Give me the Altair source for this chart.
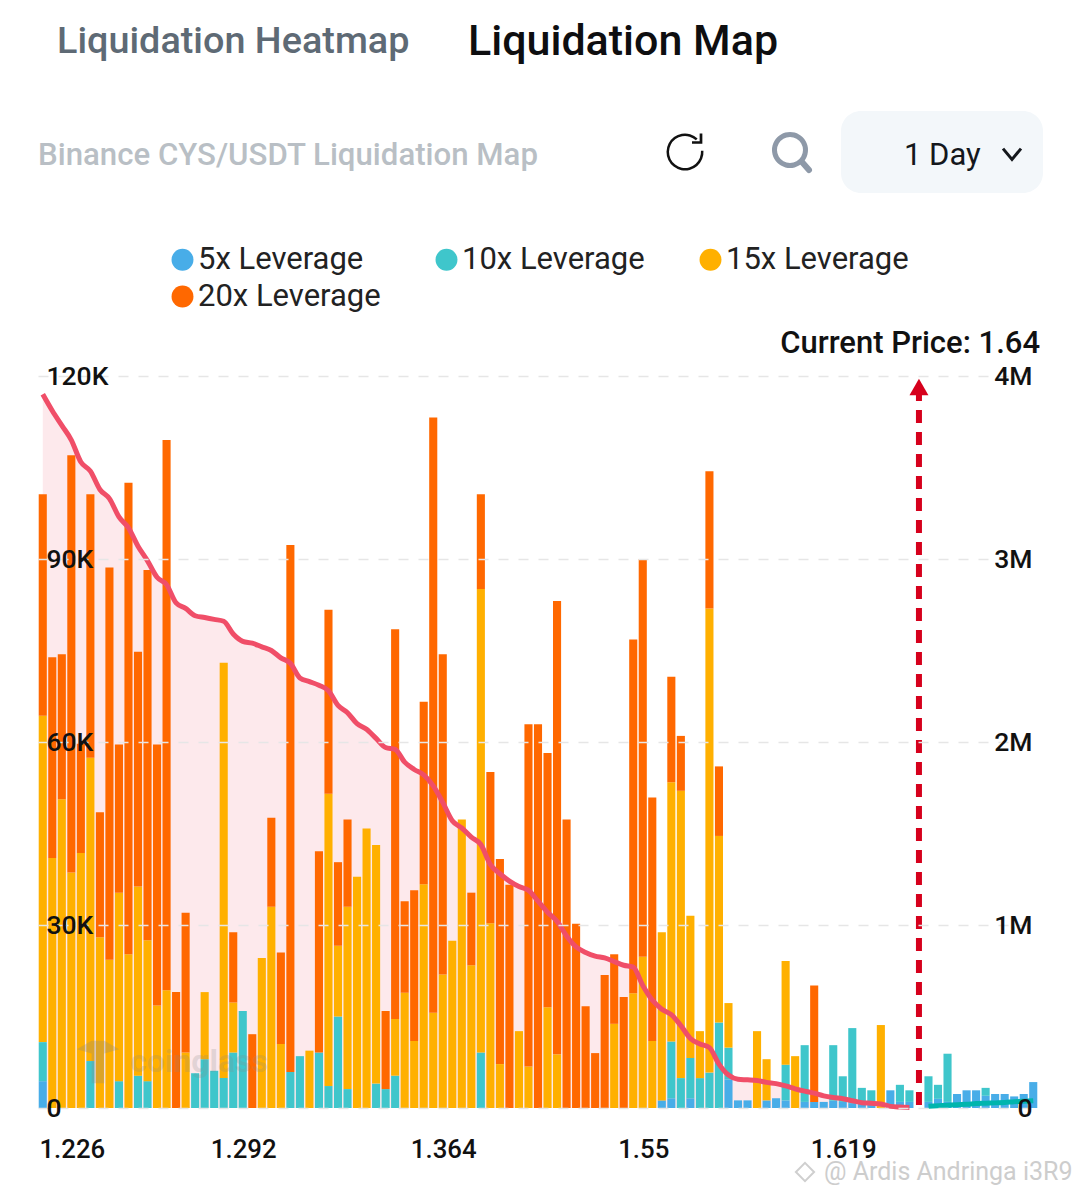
import altair as alt
import pandas as pd

# stack segments per bin, in thousands (USD)
lev5 = [4.4,0,0,0,0,0,0,0,0,0,0,0,0,0,0,0,0,0,0,0,0,0,0,0,0,0,0,0,0,0,
        0,0,0,0,0,0,0,0,0,0,0,0,0,0,0,0,0,0,0,0,0,0,0,0,0,0,0,0,0,0,
        0,0,0,0,0,1.25,1.6,0,1.6,0,0,0,4.7,1.25,1.25,0,1.25,1.6,1.25,0,1,1,1,1.2,1,.8,.8,.8,0,2.9,
        1,1,0,1,1.5,1,2.3,2.9,2.9,2,2.3,2.3,1.9,2.3,4.25]
lev10 = [6.4,0,0,0,0,7.7,0,0,4.4,0,5.3,4.4,0,0,0,0,5.7,8,6.1,4.9,9.1,15.9,0,0,0,0,5.9,8.5,0,9.1,
         3.6,15,3.1,0,0,4,3.1,5.3,0,0,0,0,0,0,0,0,9.1,0,0,0,0,0,0,0,0,0,0,0,0,0,
         0,0,0,0,0,0,9.3,4.9,6.6,4.9,5.8,14,5.2,0,0,0,0,0,5.85,0,9.3,0,0,9.1,4.2,12.3,2.5,2.1,0,0,
         2.8,1.9,0,4.2,2.3,7.9,0,0,0,1.3,0,0,0,0,0]
lev15 = [53.5,41,50.6,38.6,41.8,49.7,28,24.3,30.9,25.2,31,23.1,16.8,19.3,0,9.1,0,11,0,68.1,8.2,0,0,24.6,33,10.5,0,0,9.4,0,
         47.9,11.6,29.9,37.9,45.8,39.1,0,9.3,18.9,11,36.7,15.6,21.9,27.4,47.3,23.4,76,30.3,7.2,0,12.6,6.8,0,16.5,8.8,0,0,0,0,0,
         13.8,0,18.8,24.8,11,27.55,42.5,47.1,23.3,7.7,76.1,30.6,7.3,0,0,12.6,6.75,0,17,8.5,0,0,0,0,0,0,0,0,13.6,0,
         0,0,0,0,0,0,0,0,0,0,0,0,0,0,0]
lev20 = [36.3,32.9,23.8,68.4,17.9,43.2,20.5,64.3,24.3,77.3,38.5,60.7,42.8,90.2,19,22.9,0,0,0,0,11.5,0,12.1,0,14.6,15,86.4,0,0,33,
         30.2,13.7,14.3,0,0,0,12.8,63.9,15,24.7,29.9,97.6,52.5,0,0,11.9,15.5,24.8,33.6,36.6,0,56.1,62.9,41.7,74.3,47.3,30.2,16.7,9,21.8,
         11.4,18.2,58,65.2,39.9,0,17.3,9,0,0,22.5,11.4,0,0,0,0,0,0,0,0,0,19.1,0,0,0,0,0,0,0,0,
         0,0,0,0,0,0,0,0,0,0,0,0,0,0,0]
# cumulative short liquidation, in millions, bins 0-91
cum_left = [3.90,3.81,3.73,3.65,3.53,3.48,3.38,3.33,3.23,3.17,3.07,2.99,2.90,2.86,2.76,2.73,2.69,2.68,2.67,2.66,
            2.59,2.55,2.54,2.52,2.50,2.46,2.43,2.35,2.33,2.31,2.28,2.20,2.16,2.10,2.07,2.02,1.97,1.96,1.89,1.85,
            1.82,1.76,1.67,1.57,1.53,1.48,1.44,1.33,1.28,1.24,1.21,1.19,1.13,1.07,1.02,.94,.88,.85,.83,.82,
            .80,.78,.77,.67,.59,.54,.51,.45,.38,.35,.33,.24,.18,.157,.154,.15,.14,.133,.121,.105,
            .092,.081,.066,.057,.051,.04,.029,.026,.022,.009,.005,.003]
# cumulative long liquidation, in millions, bins 93-104
cum_right = [.009,.012,.015,.018,.020,.024,.026,.028,.03,.034,.037,.04]
series_names = ["5x Leverage","10x Leverage","15x Leverage","20x Leverage"]
# Vega's legend grid fills rows from this order to read 5x, 10x, 15x / 20x
legend_order = ["5x Leverage","15x Leverage","10x Leverage","20x Leverage"]
legend_colors = ["#48ADE8","#FFB000","#3FC6CB","#FF6800"]
tick_bins = [3,21,42,63,84]
tick_labels = ["1.226","1.292","1.364","1.55","1.619"]
current_bin = 92
FONT = "Roboto"

rows = []
for k,(name,arr) in enumerate(zip(series_names,[lev5,lev10,lev15,lev20])):
    for i,v in enumerate(arr):
        if v>0:
            rows.append({"bin":i,"value":v*1000,"series":name,"rank":k})
bars_df = pd.DataFrame(rows)
left_df = pd.DataFrame({"bin":range(len(cum_left)),"cum":[v*1e6 for v in cum_left]})
right_df = pd.DataFrame({"bin":range(93,93+len(cum_right)),"cum":[v*1e6 for v in cum_right]})
one = pd.DataFrame({"a":[1]})

OX, OY = 38, 376   # page position of the plot area
W, H = 1000, 732
def px(x): return alt.value(x-OX)
def py(y): return alt.value(y-OY)

lookup = "{" + ",".join(f"'{b}':'{t}'" for b,t in zip(tick_bins,tick_labels)) + "}[datum.value]"
xscale = alt.Scale(type="band",domain=list(range(105)),paddingInner=.15,paddingOuter=.075)
xenc = alt.X("bin:O",scale=xscale,title=None,
             axis=alt.Axis(values=tick_bins,labelExpr=lookup,labelAngle=0,labelFontSize=25.8,labelFont=FONT,
                           labelFontWeight=500,labelColor="#111",domain=False,ticks=False,labelPadding=41,
                           grid=False,labelOverlap=False,labelBaseline="middle",labelOffset=1,zindex=1))

left_axis = alt.Axis(orient="left",values=[0,30000,60000,90000,120000],title=None,domain=False,ticks=False,
                     labelExpr="datum.value==0?'0':datum.value/1000+'K'",labelAlign="left",labelPadding=-8,
                     labelFontSize=26.5,labelFont=FONT,labelFontWeight=500,labelColor="#111",labelBaseline="middle",
                     grid=True,gridColor="#E6E6E6",gridDash=[10,10],gridWidth=1.5,zindex=1)
right_axis = alt.Axis(orient="right",values=[0,1e6,2e6,3e6,4e6],title=None,domain=False,ticks=False,grid=False,
                      labelExpr="datum.value==0?'0':datum.value/1000000+'M'",labelAlign="right",labelPadding=-6,
                      labelFontSize=26.5,labelFont=FONT,labelFontWeight=500,labelColor="#111",labelBaseline="middle",zindex=1)
yL = alt.Scale(domain=[0,120000])
yR = alt.Scale(domain=[0,4000000])

area = alt.Chart(left_df).mark_area(color="#FDE7EA",opacity=.9,interpolate="monotone").encode(
    x=xenc,y=alt.Y("cum:Q",scale=yR,axis=None))
bars = alt.Chart(bars_df).mark_bar().encode(
    x=xenc,
    y=alt.Y("value:Q",stack="zero",scale=yL,axis=left_axis),
    color=alt.Color("series:N",scale=alt.Scale(domain=legend_order,range=legend_colors),
                    legend=alt.Legend(orient="none",legendX=172-OX-5,legendY=244-OY,columns=3,title=None,
                                      symbolType="circle",symbolSize=480,symbolStrokeWidth=0,symbolOpacity=1,
                                      labelFontSize=31,labelFont=FONT,labelColor="#222",labelOffset=0,
                                      columnPadding=50,rowPadding=5,gridAlign="all",labelLimit=300)),
    order=alt.Order("rank:Q",sort="ascending"))
line = alt.Chart(left_df).mark_line(color="#F04E68",strokeWidth=5,interpolate="monotone").encode(
    x=xenc,y=alt.Y("cum:Q",scale=yR,axis=right_axis))
line2 = alt.Chart(right_df).mark_line(color="#00B5AD",strokeWidth=5,interpolate="monotone").encode(
    x=xenc,y=alt.Y("cum:Q",scale=yR,axis=None))
rule = alt.Chart(pd.DataFrame({"bin":[current_bin]})).mark_rule(color="#D6001C",strokeWidth=6,strokeDash=[13,9]).encode(
    x=xenc,y=py(388),y2=py(1108))
tri = alt.Chart(pd.DataFrame({"bin":[current_bin]})).mark_point(shape="triangle-up",filled=True,color="#D6001C",size=360,opacity=1).encode(
    x=xenc,y=py(387))

def T(text,x,y,size,color="#111",weight=400,align="left",opacity=1):
    return alt.Chart(one).mark_text(text=text,fontSize=size,font=FONT,fontWeight=weight,color=color,
                                    align=align,baseline="middle",opacity=opacity).encode(x=px(x),y=py(y))

chrome = [
    T("Liquidation Heatmap",57,42,37.8,"#5E6A75",500),
    T("Liquidation Map",468,42,43,"#0E0E10",500),
    T("Binance CYS/USDT Liquidation Map",38,156,31.2,"#B9BFC5",500),
    alt.Chart(one).mark_rect(fill="#F3F7FA",cornerRadius=20).encode(x=px(841),x2=px(1043),y=py(111),y2=py(193)),
    T("1 Day",904,156,31,"#14171C",400),
    alt.Chart(one).mark_point(shape="M-1,-0.6 L0,0.6 L1,-0.6",filled=False,stroke="#14171C",strokeWidth=3,size=324,opacity=1).encode(x=px(1012),y=py(154)),
    alt.Chart(one).mark_arc(radius=18.5,radius2=16,theta=1.5,theta2=7.03,fill="#111").encode(x=px(685),y=py(152)),
    alt.Chart(one).mark_point(shape="M-1,1 L1,1 L1,-1",filled=False,stroke="#111",strokeWidth=2.7,size=81,opacity=1).encode(x=px(696.5),y=py(138)),
    alt.Chart(one).mark_arc(radius=18,radius2=13,theta=0,theta2=6.283,fill="#8E99A8").encode(x=px(790),y=py(150)),
    alt.Chart(one).mark_rule(stroke="#8E99A8",strokeWidth=6,strokeCap="round").encode(x=px(802),x2=px(809),y=py(162),y2=py(170)),
    T("Current Price: 1.64",1040,344,31,"#111",500,"right"),
]
watermarks = [
    alt.Chart(one).mark_point(shape="M-1,-0.6 L-0.3,-1 L0.3,-1 L1,-0.6 L0.3,-0.4 L0.3,1 L-0.3,1 L-0.3,-0.4 Z",filled=True,color="#888",opacity=.3,size=1800).encode(x=px(98),y=py(1062)),
    T("coinglass",130,1062,32,"#888",700,"left",.22),
    alt.Chart(one).mark_point(shape="diamond",filled=False,stroke="#CFCFCF",strokeWidth=2,size=330,opacity=1).encode(x=px(805),y=py(1172)),
    T("@ Ardis Andringa i3R9",824,1172,25,"#CDCDCD",400),
]

chart = alt.layer(*chrome,area,bars,line,line2,rule,tri,*watermarks).resolve_scale(y="independent").properties(
    width=W,height=H,
    padding={"left":OX-8,"top":OY-8,"right":1064-(OX-8)-W,"bottom":1179-(OY-8)-H},
    autosize=alt.AutoSizeParams(type="none"),background="white"
).configure_view(stroke=None)

chart.save("out.html",embed_options={"renderer":"svg","actions":False})
